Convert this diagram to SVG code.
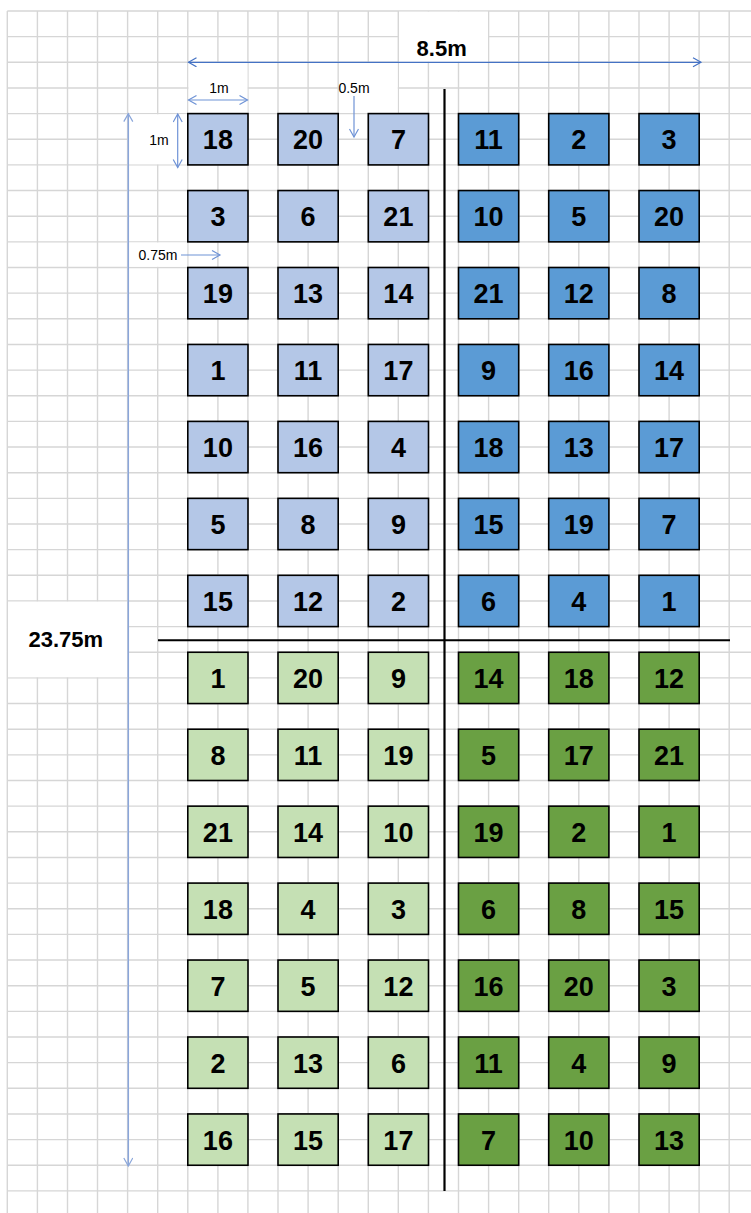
<svg xmlns="http://www.w3.org/2000/svg" width="751" height="1213" viewBox="0 0 751 1213">
<style>
.grid{fill:none;stroke:#d6d6d6;stroke-width:1.4}
.box rect{stroke:#000;stroke-width:1.6}
.lb rect{fill:#b4c7e7}
.db rect{fill:#5b9bd5}
.lg rect{fill:#c5e0b4}
.dg rect{fill:#6aa043}
.box text{font-family:"Liberation Sans",Arial,sans-serif;font-weight:bold;font-size:27px;text-anchor:middle;fill:#000}
.dimB{font-family:"Liberation Sans",Arial,sans-serif;font-weight:bold;font-size:22px;text-anchor:middle;fill:#000}
.dimS{font-family:"Liberation Sans",Arial,sans-serif;font-size:14px;text-anchor:middle;fill:#000}
.mask{fill:#fff}
</style>
<defs>
<marker id="a1" markerUnits="userSpaceOnUse" markerWidth="12" markerHeight="12" refX="9" refY="5" orient="auto-start-reverse"><path d="M1,0.5 L9,5 L1,9.5" fill="none" stroke="#4472c4" stroke-width="1.2"/></marker>
<marker id="a2" markerUnits="userSpaceOnUse" markerWidth="12" markerHeight="12" refX="9" refY="5" orient="auto-start-reverse"><path d="M1,0.5 L9,5 L1,9.5" fill="none" stroke="#6f93d6" stroke-width="1.2"/></marker>
<marker id="a3" markerUnits="userSpaceOnUse" markerWidth="12" markerHeight="12" refX="9" refY="5" orient="auto-start-reverse"><path d="M1,0.5 L9,5 L1,9.5" fill="none" stroke="#8aa6da" stroke-width="1.2"/></marker>
</defs>
<rect width="751" height="1213" fill="#fff"/>
<path class="grid" d="M7.3,11V1213M37.4,11V1213M67.5,11V1213M97.5,11V1213M127.6,11V1213M157.7,11V1213M187.8,11V1213M217.9,11V1213M247.9,11V1213M278,11V1213M308.1,11V1213M338.2,11V1213M368.3,11V1213M398.3,11V1213M428.4,11V1213M458.5,11V1213M488.6,11V1213M518.7,11V1213M548.7,11V1213M578.8,11V1213M608.9,11V1213M639,11V1213M669.1,11V1213M699.1,11V1213M729.2,11V1213
M7.3,11H751M7.3,36.65H751M7.3,62.3H751M7.3,87.95H751M7.3,113.6H751M7.3,139.25H751M7.3,164.9H751M7.3,190.55H751M7.3,216.2H751M7.3,241.85H751M7.3,267.5H751M7.3,293.15H751M7.3,318.8H751M7.3,344.45H751M7.3,370.1H751M7.3,395.75H751M7.3,421.4H751M7.3,447.05H751M7.3,472.7H751M7.3,498.35H751M7.3,524H751M7.3,549.65H751M7.3,575.3H751M7.3,600.95H751M7.3,626.6H751M7.3,652.25H751M7.3,677.9H751M7.3,703.55H751M7.3,729.2H751M7.3,754.85H751M7.3,780.5H751M7.3,806.15H751M7.3,831.8H751M7.3,857.45H751M7.3,883.1H751M7.3,908.75H751M7.3,934.4H751M7.3,960.05H751M7.3,985.7H751M7.3,1011.35H751M7.3,1037H751M7.3,1062.65H751M7.3,1088.3H751M7.3,1113.95H751M7.3,1139.6H751M7.3,1165.25H751M7.3,1190.9H751"/>
<g id="label-masks">
<rect class="mask" x="399" y="11.7" width="89" height="50"/>
<rect class="mask" x="188.5" y="63" width="59" height="50"/>
<rect class="mask" x="338.9" y="63" width="58.8" height="50"/>
<rect class="mask" x="128.3" y="114.3" width="59" height="50"/>
<rect class="mask" x="128.3" y="242.5" width="59" height="24.3"/>
<rect class="mask" x="8" y="601.6" width="119" height="75.6"/>
</g>
<g id="labels">
<text class="dimB" x="441.7" y="56">8.5m</text>
<text class="dimB" x="65.8" y="646.5">23.75m</text>
<text class="dimS" x="219" y="93">1m</text>
<text class="dimS" x="159" y="145">1m</text>
<text class="dimS" x="354" y="92.5">0.5m</text>
<text class="dimS" x="158" y="260">0.75m</text>
</g>
<g id="connectors">
<line x1="188.5" y1="62.3" x2="701" y2="62.3" stroke="#4472c4" stroke-width="1.3" marker-start="url(#a1)" marker-end="url(#a1)"/>
<line x1="188.5" y1="100" x2="247.5" y2="100" stroke="#6f93d6" stroke-width="1.2" marker-start="url(#a2)" marker-end="url(#a2)"/>
<line x1="177.7" y1="114" x2="177.7" y2="167.5" stroke="#6f93d6" stroke-width="1.2" marker-start="url(#a2)" marker-end="url(#a2)"/>
<line x1="354" y1="96" x2="354" y2="137" stroke="#6f93d6" stroke-width="1.2" marker-end="url(#a2)"/>
<line x1="181" y1="255" x2="220" y2="255" stroke="#6f93d6" stroke-width="1.2" marker-end="url(#a2)"/>
<line x1="128.3" y1="113.6" x2="128.3" y2="1166" stroke="#8aa6da" stroke-width="1.5" marker-start="url(#a3)" marker-end="url(#a3)"/>
<line x1="158" y1="640.2" x2="730" y2="640.2" stroke="#000" stroke-width="2"/>
<line x1="444.5" y1="89" x2="444.5" y2="1191" stroke="#000" stroke-width="2.2"/>
</g>
<g id="plots-top-left">
<g id="b1" class="box lb" transform="translate(187.8,113.6)"><rect width="60.2" height="51.3"/><text x="30.1" y="35.8">18</text></g>
<g id="b2" class="box lb" transform="translate(278,113.6)"><rect width="60.2" height="51.3"/><text x="30.1" y="35.8">20</text></g>
<g id="b3" class="box lb" transform="translate(368.3,113.6)"><rect width="60.2" height="51.3"/><text x="30.1" y="35.8">7</text></g>
<g id="b4" class="box lb" transform="translate(187.8,190.55)"><rect width="60.2" height="51.3"/><text x="30.1" y="35.8">3</text></g>
<g id="b5" class="box lb" transform="translate(278,190.55)"><rect width="60.2" height="51.3"/><text x="30.1" y="35.8">6</text></g>
<g id="b6" class="box lb" transform="translate(368.3,190.55)"><rect width="60.2" height="51.3"/><text x="30.1" y="35.8">21</text></g>
<g id="b7" class="box lb" transform="translate(187.8,267.5)"><rect width="60.2" height="51.3"/><text x="30.1" y="35.8">19</text></g>
<g id="b8" class="box lb" transform="translate(278,267.5)"><rect width="60.2" height="51.3"/><text x="30.1" y="35.8">13</text></g>
<g id="b9" class="box lb" transform="translate(368.3,267.5)"><rect width="60.2" height="51.3"/><text x="30.1" y="35.8">14</text></g>
<g id="b10" class="box lb" transform="translate(187.8,344.45)"><rect width="60.2" height="51.3"/><text x="30.1" y="35.8">1</text></g>
<g id="b11" class="box lb" transform="translate(278,344.45)"><rect width="60.2" height="51.3"/><text x="30.1" y="35.8">11</text></g>
<g id="b12" class="box lb" transform="translate(368.3,344.45)"><rect width="60.2" height="51.3"/><text x="30.1" y="35.8">17</text></g>
<g id="b13" class="box lb" transform="translate(187.8,421.4)"><rect width="60.2" height="51.3"/><text x="30.1" y="35.8">10</text></g>
<g id="b14" class="box lb" transform="translate(278,421.4)"><rect width="60.2" height="51.3"/><text x="30.1" y="35.8">16</text></g>
<g id="b15" class="box lb" transform="translate(368.3,421.4)"><rect width="60.2" height="51.3"/><text x="30.1" y="35.8">4</text></g>
<g id="b16" class="box lb" transform="translate(187.8,498.35)"><rect width="60.2" height="51.3"/><text x="30.1" y="35.8">5</text></g>
<g id="b17" class="box lb" transform="translate(278,498.35)"><rect width="60.2" height="51.3"/><text x="30.1" y="35.8">8</text></g>
<g id="b18" class="box lb" transform="translate(368.3,498.35)"><rect width="60.2" height="51.3"/><text x="30.1" y="35.8">9</text></g>
<g id="b19" class="box lb" transform="translate(187.8,575.3)"><rect width="60.2" height="51.3"/><text x="30.1" y="35.8">15</text></g>
<g id="b20" class="box lb" transform="translate(278,575.3)"><rect width="60.2" height="51.3"/><text x="30.1" y="35.8">12</text></g>
<g id="b21" class="box lb" transform="translate(368.3,575.3)"><rect width="60.2" height="51.3"/><text x="30.1" y="35.8">2</text></g>
</g>
<g id="plots-top-right">
<g id="c1" class="box db" transform="translate(458.5,113.6)"><rect width="60.2" height="51.3"/><text x="30.1" y="35.8">11</text></g>
<g id="c2" class="box db" transform="translate(548.7,113.6)"><rect width="60.2" height="51.3"/><text x="30.1" y="35.8">2</text></g>
<g id="c3" class="box db" transform="translate(639,113.6)"><rect width="60.2" height="51.3"/><text x="30.1" y="35.8">3</text></g>
<g id="c4" class="box db" transform="translate(458.5,190.55)"><rect width="60.2" height="51.3"/><text x="30.1" y="35.8">10</text></g>
<g id="c5" class="box db" transform="translate(548.7,190.55)"><rect width="60.2" height="51.3"/><text x="30.1" y="35.8">5</text></g>
<g id="c6" class="box db" transform="translate(639,190.55)"><rect width="60.2" height="51.3"/><text x="30.1" y="35.8">20</text></g>
<g id="c7" class="box db" transform="translate(458.5,267.5)"><rect width="60.2" height="51.3"/><text x="30.1" y="35.8">21</text></g>
<g id="c8" class="box db" transform="translate(548.7,267.5)"><rect width="60.2" height="51.3"/><text x="30.1" y="35.8">12</text></g>
<g id="c9" class="box db" transform="translate(639,267.5)"><rect width="60.2" height="51.3"/><text x="30.1" y="35.8">8</text></g>
<g id="c10" class="box db" transform="translate(458.5,344.45)"><rect width="60.2" height="51.3"/><text x="30.1" y="35.8">9</text></g>
<g id="c11" class="box db" transform="translate(548.7,344.45)"><rect width="60.2" height="51.3"/><text x="30.1" y="35.8">16</text></g>
<g id="c12" class="box db" transform="translate(639,344.45)"><rect width="60.2" height="51.3"/><text x="30.1" y="35.8">14</text></g>
<g id="c13" class="box db" transform="translate(458.5,421.4)"><rect width="60.2" height="51.3"/><text x="30.1" y="35.8">18</text></g>
<g id="c14" class="box db" transform="translate(548.7,421.4)"><rect width="60.2" height="51.3"/><text x="30.1" y="35.8">13</text></g>
<g id="c15" class="box db" transform="translate(639,421.4)"><rect width="60.2" height="51.3"/><text x="30.1" y="35.8">17</text></g>
<g id="c16" class="box db" transform="translate(458.5,498.35)"><rect width="60.2" height="51.3"/><text x="30.1" y="35.8">15</text></g>
<g id="c17" class="box db" transform="translate(548.7,498.35)"><rect width="60.2" height="51.3"/><text x="30.1" y="35.8">19</text></g>
<g id="c18" class="box db" transform="translate(639,498.35)"><rect width="60.2" height="51.3"/><text x="30.1" y="35.8">7</text></g>
<g id="c19" class="box db" transform="translate(458.5,575.3)"><rect width="60.2" height="51.3"/><text x="30.1" y="35.8">6</text></g>
<g id="c20" class="box db" transform="translate(548.7,575.3)"><rect width="60.2" height="51.3"/><text x="30.1" y="35.8">4</text></g>
<g id="c21" class="box db" transform="translate(639,575.3)"><rect width="60.2" height="51.3"/><text x="30.1" y="35.8">1</text></g>
</g>
<g id="plots-bottom-left">
<g id="d1" class="box lg" transform="translate(187.8,652.25)"><rect width="60.2" height="51.3"/><text x="30.1" y="35.8">1</text></g>
<g id="d2" class="box lg" transform="translate(278,652.25)"><rect width="60.2" height="51.3"/><text x="30.1" y="35.8">20</text></g>
<g id="d3" class="box lg" transform="translate(368.3,652.25)"><rect width="60.2" height="51.3"/><text x="30.1" y="35.8">9</text></g>
<g id="d4" class="box lg" transform="translate(187.8,729.2)"><rect width="60.2" height="51.3"/><text x="30.1" y="35.8">8</text></g>
<g id="d5" class="box lg" transform="translate(278,729.2)"><rect width="60.2" height="51.3"/><text x="30.1" y="35.8">11</text></g>
<g id="d6" class="box lg" transform="translate(368.3,729.2)"><rect width="60.2" height="51.3"/><text x="30.1" y="35.8">19</text></g>
<g id="d7" class="box lg" transform="translate(187.8,806.15)"><rect width="60.2" height="51.3"/><text x="30.1" y="35.8">21</text></g>
<g id="d8" class="box lg" transform="translate(278,806.15)"><rect width="60.2" height="51.3"/><text x="30.1" y="35.8">14</text></g>
<g id="d9" class="box lg" transform="translate(368.3,806.15)"><rect width="60.2" height="51.3"/><text x="30.1" y="35.8">10</text></g>
<g id="d10" class="box lg" transform="translate(187.8,883.1)"><rect width="60.2" height="51.3"/><text x="30.1" y="35.8">18</text></g>
<g id="d11" class="box lg" transform="translate(278,883.1)"><rect width="60.2" height="51.3"/><text x="30.1" y="35.8">4</text></g>
<g id="d12" class="box lg" transform="translate(368.3,883.1)"><rect width="60.2" height="51.3"/><text x="30.1" y="35.8">3</text></g>
<g id="d13" class="box lg" transform="translate(187.8,960.05)"><rect width="60.2" height="51.3"/><text x="30.1" y="35.8">7</text></g>
<g id="d14" class="box lg" transform="translate(278,960.05)"><rect width="60.2" height="51.3"/><text x="30.1" y="35.8">5</text></g>
<g id="d15" class="box lg" transform="translate(368.3,960.05)"><rect width="60.2" height="51.3"/><text x="30.1" y="35.8">12</text></g>
<g id="d16" class="box lg" transform="translate(187.8,1037)"><rect width="60.2" height="51.3"/><text x="30.1" y="35.8">2</text></g>
<g id="d17" class="box lg" transform="translate(278,1037)"><rect width="60.2" height="51.3"/><text x="30.1" y="35.8">13</text></g>
<g id="d18" class="box lg" transform="translate(368.3,1037)"><rect width="60.2" height="51.3"/><text x="30.1" y="35.8">6</text></g>
<g id="d19" class="box lg" transform="translate(187.8,1113.95)"><rect width="60.2" height="51.3"/><text x="30.1" y="35.8">16</text></g>
<g id="d20" class="box lg" transform="translate(278,1113.95)"><rect width="60.2" height="51.3"/><text x="30.1" y="35.8">15</text></g>
<g id="d21" class="box lg" transform="translate(368.3,1113.95)"><rect width="60.2" height="51.3"/><text x="30.1" y="35.8">17</text></g>
</g>
<g id="plots-bottom-right">
<g id="e1" class="box dg" transform="translate(458.5,652.25)"><rect width="60.2" height="51.3"/><text x="30.1" y="35.8">14</text></g>
<g id="e2" class="box dg" transform="translate(548.7,652.25)"><rect width="60.2" height="51.3"/><text x="30.1" y="35.8">18</text></g>
<g id="e3" class="box dg" transform="translate(639,652.25)"><rect width="60.2" height="51.3"/><text x="30.1" y="35.8">12</text></g>
<g id="e4" class="box dg" transform="translate(458.5,729.2)"><rect width="60.2" height="51.3"/><text x="30.1" y="35.8">5</text></g>
<g id="e5" class="box dg" transform="translate(548.7,729.2)"><rect width="60.2" height="51.3"/><text x="30.1" y="35.8">17</text></g>
<g id="e6" class="box dg" transform="translate(639,729.2)"><rect width="60.2" height="51.3"/><text x="30.1" y="35.8">21</text></g>
<g id="e7" class="box dg" transform="translate(458.5,806.15)"><rect width="60.2" height="51.3"/><text x="30.1" y="35.8">19</text></g>
<g id="e8" class="box dg" transform="translate(548.7,806.15)"><rect width="60.2" height="51.3"/><text x="30.1" y="35.8">2</text></g>
<g id="e9" class="box dg" transform="translate(639,806.15)"><rect width="60.2" height="51.3"/><text x="30.1" y="35.8">1</text></g>
<g id="e10" class="box dg" transform="translate(458.5,883.1)"><rect width="60.2" height="51.3"/><text x="30.1" y="35.8">6</text></g>
<g id="e11" class="box dg" transform="translate(548.7,883.1)"><rect width="60.2" height="51.3"/><text x="30.1" y="35.8">8</text></g>
<g id="e12" class="box dg" transform="translate(639,883.1)"><rect width="60.2" height="51.3"/><text x="30.1" y="35.8">15</text></g>
<g id="e13" class="box dg" transform="translate(458.5,960.05)"><rect width="60.2" height="51.3"/><text x="30.1" y="35.8">16</text></g>
<g id="e14" class="box dg" transform="translate(548.7,960.05)"><rect width="60.2" height="51.3"/><text x="30.1" y="35.8">20</text></g>
<g id="e15" class="box dg" transform="translate(639,960.05)"><rect width="60.2" height="51.3"/><text x="30.1" y="35.8">3</text></g>
<g id="e16" class="box dg" transform="translate(458.5,1037)"><rect width="60.2" height="51.3"/><text x="30.1" y="35.8">11</text></g>
<g id="e17" class="box dg" transform="translate(548.7,1037)"><rect width="60.2" height="51.3"/><text x="30.1" y="35.8">4</text></g>
<g id="e18" class="box dg" transform="translate(639,1037)"><rect width="60.2" height="51.3"/><text x="30.1" y="35.8">9</text></g>
<g id="e19" class="box dg" transform="translate(458.5,1113.95)"><rect width="60.2" height="51.3"/><text x="30.1" y="35.8">7</text></g>
<g id="e20" class="box dg" transform="translate(548.7,1113.95)"><rect width="60.2" height="51.3"/><text x="30.1" y="35.8">10</text></g>
<g id="e21" class="box dg" transform="translate(639,1113.95)"><rect width="60.2" height="51.3"/><text x="30.1" y="35.8">13</text></g>
</g>
</svg>
